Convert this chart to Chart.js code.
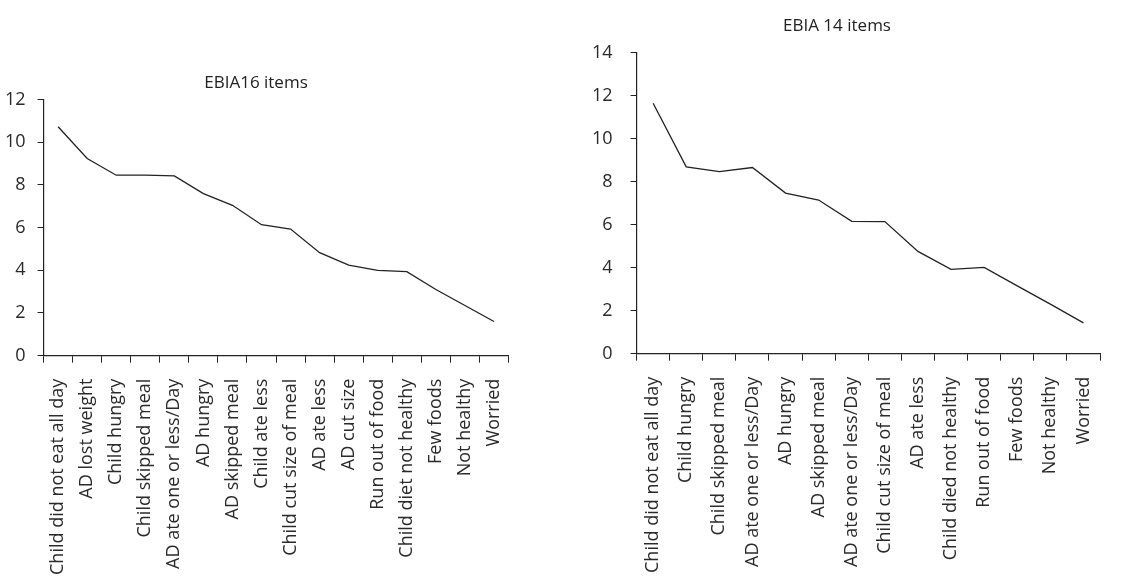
<!DOCTYPE html>
<html>
<head>
<meta charset="utf-8">
<script src="https://cdn.jsdelivr.net/npm/chart.js@4"></script>
<style>
  html, body { margin: 0; padding: 0; background: #fff; overflow: hidden; width: 1131px; height: 577px; }
  .box { position: absolute; }
  #wrapLeft { left: -12px; top: 73px; width: 544px; height: 518px; }
  #wrapRight { left: 551px; top: 16px; width: 580px; height: 573px; }
</style>
</head>
<body>
<div class="box" id="wrapLeft"><canvas id="chartLeft"></canvas></div>
<div class="box" id="wrapRight"><canvas id="chartRight"></canvas></div>
<script>
const labels16 = ['Child did not eat all day', 'AD lost weight', 'Child hungry', 'Child skipped meal',
  'AD ate one or less/Day', 'AD hungry', 'AD skipped meal', 'Child ate less', 'Child cut size of meal',
  'AD ate less', 'AD cut size', 'Run out of food', 'Child diet not healthy', 'Few foods', 'Not healthy', 'Worried'];
const values16 = [10.72, 9.23, 8.45, 8.45, 8.42, 7.59, 7.04, 6.13, 5.93, 4.82, 4.24, 3.99, 3.93, 3.1, 2.35, 1.6];

const labels14 = ['Child did not eat all day', 'Child hungry', 'Child skipped meal', 'AD ate one or less/Day',
  'AD hungry', 'AD skipped meal', 'AD ate one or less/Day', 'Child cut size of meal', 'AD ate less',
  'Child died not healthy', 'Run out of food', 'Few foods', 'Not healthy', 'Worried'];
const values14 = [11.64, 8.68, 8.46, 8.65, 7.46, 7.14, 6.15, 6.14, 4.75, 3.92, 4.01, 3.15, 2.3, 1.43];

Chart.defaults.font.family = "'Open Sans', 'DejaVu Sans', sans-serif";
Chart.defaults.color = '#2a2a2a';
Chart.defaults.animation = false;

function makeLineChart(ctx, title, labels, values, yMax, pad, titleGap, yPad) {
    return new Chart(ctx, {
        type: 'line',
        data: {
            labels: labels,
            datasets: [{
                data: values,
                borderColor: '#222',
                borderWidth: 1.3,
                pointRadius: 0,
                tension: 0,
                fill: false
            }]
        },
        options: {
            responsive: true,
            maintainAspectRatio: false,
            layout: { padding: pad },
            plugins: {
                legend: { display: false },
                tooltip: { enabled: false },
                title: {
                    display: true,
                    text: title,
                    font: { size: 17, weight: 'normal' },
                    color: '#222',
                    padding: { top: 0, bottom: titleGap }
                }
            },
            scales: {
                x: {
                    type: 'category',
                    offset: true,
                    grid: {
                        offset: true,
                        drawOnChartArea: false,
                        tickLength: 7,
                        color: '#222'
                    },
                    border: { display: true, color: '#222', width: 1.2 },
                    ticks: {
                        autoSkip: false,
                        minRotation: 90,
                        maxRotation: 90,
                        padding: 16,
                        font: { size: 18 },
                        color: '#2a2a2a'
                    }
                },
                y: {
                    min: 0,
                    max: yMax,
                    grid: {
                        drawOnChartArea: false,
                        tickLength: 6,
                        color: '#222'
                    },
                    border: { display: true, color: '#222', width: 1.2 },
                    ticks: {
                        stepSize: 2,
                        padding: yPad,
                        font: { size: 18 },
                        color: '#2a2a2a'
                    }
                }
            }
        }
    });
}

makeLineChart(document.getElementById('chartLeft'), 'EBIA16 items', labels16, values16, 12,
    { left: 5, right: 13, top: 0, bottom: 0 }, 6, 12);
makeLineChart(document.getElementById('chartRight'), 'EBIA 14 items', labels14, values14, 14,
    { left: 23, right: 31, top: 0, bottom: 0 }, 16, 18);
</script>
</body>
</html>
